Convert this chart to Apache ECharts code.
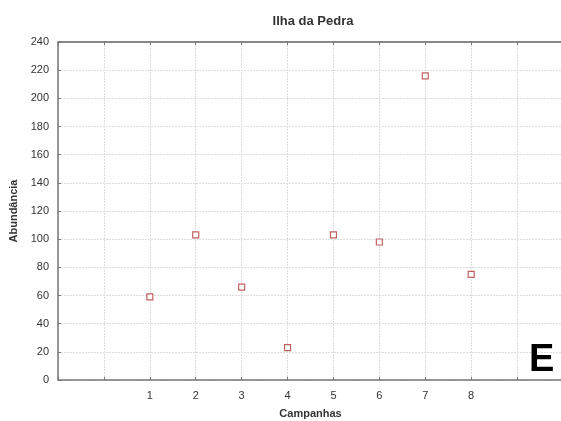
<!DOCTYPE html>
<html><head><meta charset="utf-8">
<script src="https://cdn.jsdelivr.net/npm/echarts@6/dist/echarts.min.js"></script>
<style>html,body{margin:0;padding:0;background:#fff;overflow:hidden}#c{width:561px;height:421px}</style>
</head><body><div id="c"></div>
<script>
const campanhas = [1, 2, 3, 4, 5, 6, 7, 8];
const abundancia = [59, 103, 66, 23, 103, 98, 216, 75];
const xLabels = ['1','2','3','4','5','6','7','8'];
const yTicks = [0,20,40,60,80,100,120,140,160,180,200,220,240];

const font = 'Arial, Liberation Sans';
const chart = echarts.init(document.getElementById('c'));
chart.setOption({
  animation: false,
  backgroundColor: '#fff',
  title: {
    text: 'Ilha da Pedra', left: 308, top: 10, textAlign: 'center',
    textStyle: {fontFamily: font, fontSize: 13, fontWeight: 'bold', color: '#333'}
  },
  grid: {left: 58, right: -2, top: 42, bottom: 41, show: false, containLabel: false, outerBoundsMode: 'none'},
  xAxis: [{
    type: 'value', min: -1, max: 10, interval: 1,
    name: 'Campanhas', nameLocation: 'middle', nameGap: 28,
    nameTextStyle: {fontFamily: font, fontSize: 11, fontWeight: 'bold', color: '#333'},
    axisLine: {onZero: false, lineStyle: {color: '#777', width: 1.5}},
    axisTick: {inside: true, length: 3, lineStyle: {color: '#777'}},
    axisLabel: {
      fontFamily: font, fontSize: 11, color: '#333', margin: 10,
      formatter: v => (xLabels.indexOf(String(v)) >= 0 ? String(v) : '')
    },
    splitLine: {show: true, lineStyle: {color: '#ddd', type: [2, 1]}}
  }, {
    type: 'value', position: 'top', min: -1, max: 10, interval: 1,
    axisLine: {onZero: false, lineStyle: {color: '#888', width: 2}},
    axisTick: {inside: true, length: 3, lineStyle: {color: '#777'}},
    axisLabel: {show: false},
    splitLine: {show: false}
  }],
  yAxis: {
    type: 'value', min: 0, max: 240, interval: 20,
    name: 'Abundância', nameLocation: 'middle', nameGap: 36,
    nameTextStyle: {fontFamily: font, fontSize: 11, fontWeight: 'bold', color: '#333'},
    axisLine: {show: true, onZero: false, lineStyle: {color: '#777', width: 1.5}},
    axisTick: {show: true, inside: true, length: 3, lineStyle: {color: '#777'}},
    axisLabel: {
      fontFamily: font, fontSize: 11, color: '#333', margin: 9,
      formatter: v => (yTicks.indexOf(v) >= 0 ? String(v) : '')
    },
    splitLine: {show: true, lineStyle: {color: '#ddd', type: [2, 1]}}
  },
  series: [{
    type: 'scatter',
    xAxisIndex: 0,
    data: campanhas.map((c, i) => [c, abundancia[i]]),
    symbol: 'rect', symbolSize: 6,
    itemStyle: {color: '#fff', borderColor: '#b03a3a', borderWidth: 1.2}
  }],
  graphic: [{
    type: 'text', left: 529, top: 342, z: 100,
    style: {text: 'E', font: 'bold 38px Arial, Liberation Sans', fill: '#000'}
  }]
});
</script></body></html>
